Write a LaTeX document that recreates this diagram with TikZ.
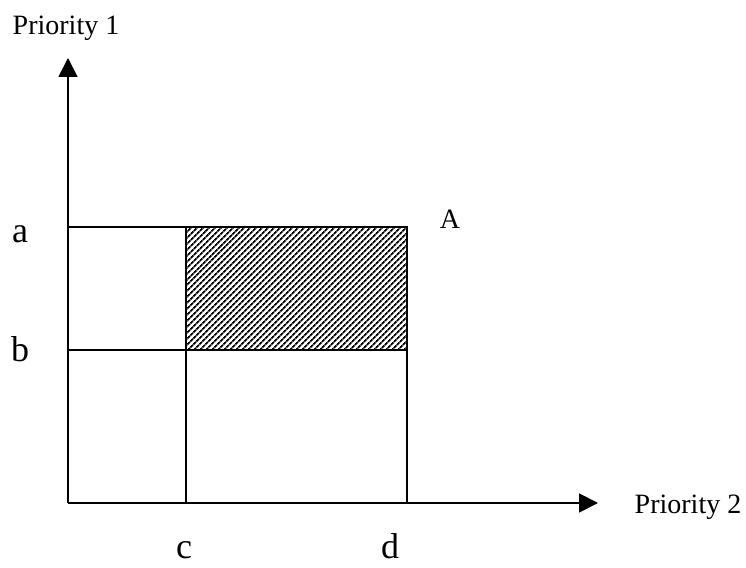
\documentclass[tikz,border=0pt]{standalone}
\usepackage{fontspec}
\setmainfont{Liberation Serif}
\usetikzlibrary{arrows.meta,patterns.meta}

\begin{document}
\begin{tikzpicture}[
    x=1pt, y=1pt,
    axislabel/.style={
        anchor=base,
        inner sep=0pt,
        font=\fontsize{28}{30}\selectfont
    },
    ticklabel/.style={
        anchor=base,
        inner sep=0pt,
        font=\fontsize{36}{38}\selectfont
    },
    axis/.style={line width=1.9pt,-{Triangle[length=19pt,width=19pt]}},
    grid/.style={line width=1.9pt}
]
\useasboundingbox (0,0) rectangle (746,567);
% corners of the region
\coordinate (origin) at (68,64);
\coordinate (ytip) at (68,509);
\coordinate (xtip) at (598,64);
\coordinate (topleft) at (68,340);
\coordinate (topright) at (407,340);
\coordinate (midleft) at (68,217);
\coordinate (midright) at (407,217);
\coordinate (ctop) at (186,340);
\coordinate (cmid) at (186,217);
\coordinate (cbot) at (186,64);
\coordinate (dbot) at (407,64);

% shaded part
\fill [pattern={Lines[angle=45,distance=4pt,line width=1.8pt]}] (cmid) rectangle (topright);

\draw [grid] (topleft) -- (topright) -- (dbot);
\draw [grid] (midleft) -- (midright);
\draw [grid] (ctop) -- (cbot);
\draw [axis] (origin) -- (ytip);
\draw [axis] (origin) -- (xtip);

\node (p1) [axislabel] at (66,532) {Priority 1};
\node (p2) [axislabel] at (688,53) {Priority 2};
\node (la) [ticklabel] at (20,324) {a};
\node (lb) [ticklabel] at (20,205) {b};
\node (lc) [ticklabel] at (184,9) {c};
\node (ld) [ticklabel] at (390,9) {d};
\node (lA) [axislabel] at (450,338) {A};
\end{tikzpicture}
\end{document}
